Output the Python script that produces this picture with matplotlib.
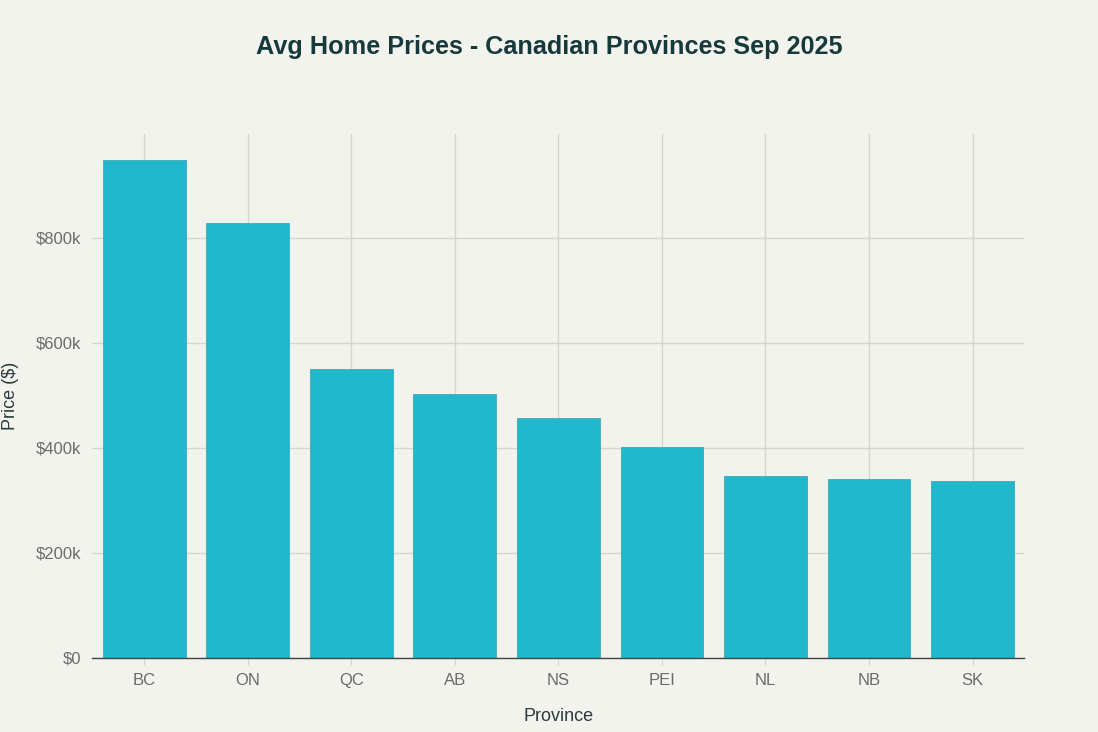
import numpy as np
import matplotlib
matplotlib.use('Agg')
import matplotlib.pyplot as plt
from matplotlib.ticker import FuncFormatter

provinces = ["BC", "ON", "QC", "AB", "NS", "PEI", "NL", "NB", "SK"]
prices = [949000, 829000, 550000, 502000, 457000, 402000, 347000, 340000, 337000]

bg = "#f3f3ee"
bar_color = "#21b8cc"

plt.rcParams['font.family'] = ['Liberation Sans', 'DejaVu Sans']

fig = plt.figure(figsize=(10.98, 7.32), dpi=100, facecolor=bg)
ax = fig.add_axes([0.0842, 0.1011, 0.8487, 0.716])
ax.set_facecolor(bg)

x = np.arange(len(provinces))
ax.bar(x, prices, width=0.8, color=bar_color, edgecolor="#3ea9b8", linewidth=0.6, zorder=3)

ax.set_xlim(-0.5, len(provinces) - 0.5)
ax.set_ylim(0, 998000)
ax.set_yticks([0, 200000, 400000, 600000, 800000])
ax.yaxis.set_major_formatter(FuncFormatter(lambda v, p: "$0" if v == 0 else f"${int(v/1000)}k"))
ax.set_xticks(x)
ax.set_xticklabels(provinces)

ax.grid(True, color="#d6d6d0", linewidth=1, zorder=0)
for s in ["top", "right", "left"]:
    ax.spines[s].set_visible(False)
ax.spines["bottom"].set_color("#444444")
ax.spines["bottom"].set_linewidth(1)
ax.spines["bottom"].set_zorder(4)

ax.tick_params(axis="y", length=0, pad=8, labelsize=12, labelcolor="#6b6b6b")
ax.tick_params(axis="x", length=5, color="#d6d6d0", pad=6, labelsize=12, labelcolor="#6b6b6b")

ax.set_xlabel("Province", fontsize=13, color="#2a3b3d", labelpad=14)
ax.set_ylabel("Price ($)", fontsize=13, color="#2a3b3d", labelpad=12)

fig.text(0.5, 0.936, "Avg Home Prices - Canadian Provinces Sep 2025", ha="center", va="center",
         fontsize=18.2, fontweight="bold", color="#163a3c")

fig.savefig("out.png", dpi=100, facecolor=bg)
